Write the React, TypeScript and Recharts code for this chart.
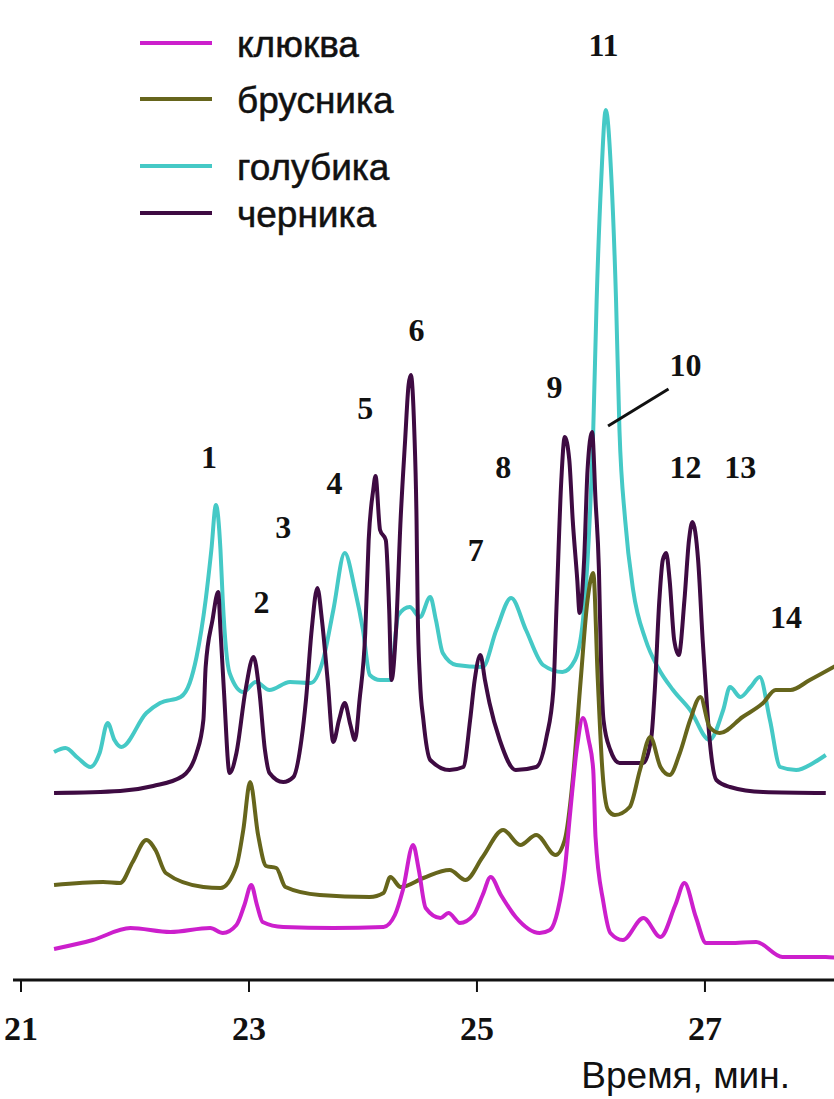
import { LineChart, Line, XAxis, YAxis, Legend, ReferenceDot, ReferenceLine } from 'recharts';

// retention time, min -> detector signal, rel. units
const KLYUKVA: [number, number][] = [
  [21.29, 31], [21.63, 40], [21.96, 52], [22.31, 48], [22.66, 52], [22.77, 47], [22.89, 55],
  [22.96, 75], [23.02, 95], [23.07, 75], [23.12, 58], [23.3, 53], [23.74, 52], [24.18, 53],
  [24.28, 65], [24.35, 90], [24.44, 135], [24.49, 110], [24.55, 72], [24.68, 62], [24.75, 67],
  [24.85, 57], [24.97, 65], [25.05, 85], [25.12, 103], [25.21, 85], [25.34, 63], [25.55, 47],
  [25.64, 50], [25.71, 70], [25.77, 110], [25.82, 170], [25.88, 235], [25.93, 262], [25.98, 240],
  [26.02, 210], [26.04, 143], [26.11, 77], [26.17, 47], [26.28, 40], [26.46, 62], [26.61, 43],
  [26.74, 75], [26.82, 97], [26.92, 63], [27.01, 37], [27.22, 37], [27.45, 38], [27.68, 23],
  [28.06, 23], [28.16, 22],
];

const BRUSNIKA: [number, number][] = [
  [21.29, 95], [21.72, 98], [21.87, 97], [21.98, 118], [22.1, 140], [22.18, 130], [22.27, 107],
  [22.6, 93], [22.75, 92], [22.89, 114], [22.95, 150], [23.01, 198], [23.08, 145], [23.15, 114],
  [23.24, 112], [23.32, 93], [23.62, 85], [24.06, 83], [24.18, 87], [24.24, 103], [24.33, 93],
  [24.53, 102], [24.76, 110], [24.9, 100], [25.05, 123], [25.23, 150], [25.38, 135], [25.52, 145],
  [25.69, 125], [25.77, 140], [25.84, 200], [25.91, 300], [25.97, 380], [26.02, 407], [26.06, 300],
  [26.1, 210], [26.15, 170], [26.21, 165], [26.34, 173], [26.43, 210], [26.52, 243], [26.61, 213],
  [26.69, 205], [26.78, 227], [26.87, 260], [26.96, 283], [27.04, 253], [27.13, 247], [27.33, 263],
  [27.51, 277], [27.62, 290], [27.75, 290], [27.92, 300], [28.16, 315],
];

const GOLUBIKA: [number, number][] = [
  [21.29, 228], [21.39, 232], [21.5, 222], [21.61, 213], [21.69, 227], [21.76, 257], [21.82, 240],
  [21.88, 233], [22.1, 267], [22.22, 277], [22.4, 283], [22.48, 297], [22.54, 323], [22.62, 380],
  [22.67, 430], [22.71, 475], [22.75, 430], [22.77, 380], [22.83, 307], [22.95, 288], [23.06, 298],
  [23.18, 290], [23.36, 298], [23.54, 297], [23.65, 320], [23.74, 370], [23.84, 427], [23.93, 390],
  [24.0, 350], [24.06, 305], [24.15, 300], [24.24, 300], [24.31, 365], [24.41, 373], [24.5, 363],
  [24.59, 383], [24.64, 360], [24.7, 327], [24.82, 315], [25.05, 313], [25.17, 350], [25.3, 382],
  [25.43, 350], [25.58, 315], [25.75, 308], [25.86, 320], [25.93, 360], [25.98, 440], [26.02, 550],
  [26.05, 680], [26.09, 800], [26.13, 870], [26.18, 800], [26.22, 680], [26.25, 550], [26.3, 460],
  [26.37, 390], [26.48, 340], [26.59, 312], [26.72, 290], [26.87, 270], [27.04, 240], [27.16, 270],
  [27.22, 293], [27.31, 283], [27.4, 293], [27.48, 303], [27.57, 260], [27.66, 213], [27.8, 210],
  [27.95, 217], [28.06, 225],
];

const CHERNIKA: [number, number][] = [
  [21.29, 187], [21.87, 189], [22.16, 194], [22.42, 204], [22.54, 227], [22.6, 260], [22.62, 313],
  [22.68, 360], [22.73, 388], [22.75, 350], [22.78, 290], [22.83, 207], [22.89, 227], [22.97, 290],
  [23.04, 323], [23.09, 290], [23.14, 230], [23.18, 207], [23.3, 198], [23.39, 203], [23.46, 240],
  [23.5, 280], [23.55, 350], [23.6, 392], [23.64, 360], [23.69, 300], [23.74, 238], [23.79, 260],
  [23.84, 277], [23.89, 255], [23.93, 240], [23.97, 280], [24.02, 347], [24.05, 440], [24.09, 490],
  [24.11, 504], [24.15, 450], [24.2, 440], [24.23, 370], [24.25, 300], [24.29, 350], [24.33, 460],
  [24.37, 540], [24.4, 595], [24.42, 605], [24.45, 550], [24.47, 460], [24.48, 370], [24.5, 300],
  [24.53, 260], [24.59, 220], [24.76, 210], [24.88, 213], [24.94, 260], [24.98, 300], [25.03, 325],
  [25.07, 300], [25.11, 277], [25.2, 240], [25.34, 210], [25.52, 213], [25.61, 243], [25.67, 290],
  [25.7, 380], [25.74, 500], [25.77, 543], [25.81, 520], [25.84, 460], [25.88, 400], [25.9, 367],
  [25.94, 420], [25.97, 510], [26.01, 548], [26.04, 480], [26.07, 410], [26.09, 310], [26.11, 260],
  [26.17, 230], [26.25, 217], [26.46, 217], [26.53, 243], [26.56, 290], [26.6, 380], [26.63, 420],
  [26.66, 427], [26.69, 400], [26.73, 340], [26.77, 325], [26.82, 380], [26.86, 440], [26.89, 458],
  [26.94, 420], [26.98, 340], [27.02, 270], [27.05, 230], [27.1, 200], [27.22, 193], [27.51, 188],
  [28.06, 187],
];

const TICKS = [21, 23, 25, 27];

// peak numbers (placed by time / signal)
const PEAK_LABELS = [
  { n: '1', t: 22.65, v: 523 }, { n: '2', t: 23.11, v: 378 }, { n: '3', t: 23.3, v: 453 },
  { n: '4', t: 23.75, v: 497 }, { n: '5', t: 24.02, v: 572 }, { n: '6', t: 24.47, v: 650 },
  { n: '7', t: 24.99, v: 430 }, { n: '8', t: 25.23, v: 513 }, { n: '9', t: 25.68, v: 593 },
  { n: '10', t: 26.83, v: 615 }, { n: '11', t: 26.11, v: 935 }, { n: '12', t: 26.83, v: 513 },
  { n: '13', t: 27.31, v: 513 }, { n: '14', t: 27.71, v: 363 },
];
const POINTER_10 = [{ x: 26.68, y: 591 }, { x: 26.15, y: 554 }];

const SERIES = [
  { name: 'голубика', color: '#45c9c6', points: GOLUBIKA },
  { name: 'черника', color: '#3e0b42', points: CHERNIKA },
  { name: 'брусника', color: '#66651c', points: BRUSNIKA },
  { name: 'клюква', color: '#cc1fcc', points: KLYUKVA },
];
const LEGEND_ORDER = ['клюква', 'брусника', 'голубика', 'черника'];
const LEGEND_BASELINES = [57, 113, 180, 227];

const serif = '"Liberation Serif", "Times New Roman", serif';
const sans = '"Liberation Sans", Arial, sans-serif';

function LegendBox() {
  return (
    <svg width={834} height={250} style={{ display: 'block' }}>
      {LEGEND_ORDER.map((name, i) => {
        const s = SERIES.find(d => d.name === name)!;
        const base = LEGEND_BASELINES[i];
        return (
          <g key={name}>
            <line x1={140} x2={212} y1={base - 14} y2={base - 14} stroke={s.color} strokeWidth={4} />
            <text x={237} y={base} fontSize={37} fontFamily={sans} fill="#111" stroke="#111" strokeWidth={0.5}>
              {name}
            </text>
          </g>
        );
      })}
    </svg>
  );
}

function AxisTitle(props: any) {
  const vb = props.viewBox || { x: 13, y: 980, width: 821 };
  return (
    <text x={vb.x + vb.width - 44} y={vb.y + 108} textAnchor="end" fontSize={37} fontFamily={sans} fill="#111">
      Время, мин.
    </text>
  );
}

export default function App() {
  return (
    <div style={{ position: 'absolute', left: 0, top: 0, width: 834, height: 1099, background: '#fff' }}>
      <LineChart width={834} height={1099} margin={{ top: 0, right: 0, bottom: 0, left: 13 }}>
        <XAxis
          type="number"
          dataKey="t"
          domain={[20.93, 28.132]}
          allowDataOverflow
          ticks={TICKS}
          height={119}
          axisLine={{ stroke: '#111', strokeWidth: 3 }}
          tickLine={{ stroke: '#111', strokeWidth: 2 }}
          tickSize={12}
          tickMargin={24}
          tick={{ fill: '#111', fontSize: 34, fontWeight: 'bold', fontFamily: serif }}
          label={<AxisTitle />}
        />
        <YAxis type="number" domain={[0, 980]} allowDataOverflow hide />
        <Legend
          layout="vertical"
          align="center"
          verticalAlign="middle"
          wrapperStyle={{ left: 0, top: 0, width: 834, height: 250 }}
          content={() => <LegendBox />}
        />
        {SERIES.map(s => (
          <Line
            key={s.name}
            name={s.name}
            data={s.points.map(([t, v]) => ({ t, v }))}
            dataKey="v"
            type="monotone"
            stroke={s.color}
            strokeWidth={4}
            dot={false}
            activeDot={false}
            isAnimationActive={false}
          />
        ))}
        <ReferenceLine segment={POINTER_10} stroke="#111" strokeWidth={3} />
        {PEAK_LABELS.map(p => (
          <ReferenceDot
            key={p.n}
            x={p.t}
            y={p.v}
            r={0}
            stroke="none"
            fill="none"
            label={{ value: p.n, position: 'center', fill: '#111', fontSize: 32, fontWeight: 'bold', fontFamily: serif }}
          />
        ))}
      </LineChart>
    </div>
  );
}
